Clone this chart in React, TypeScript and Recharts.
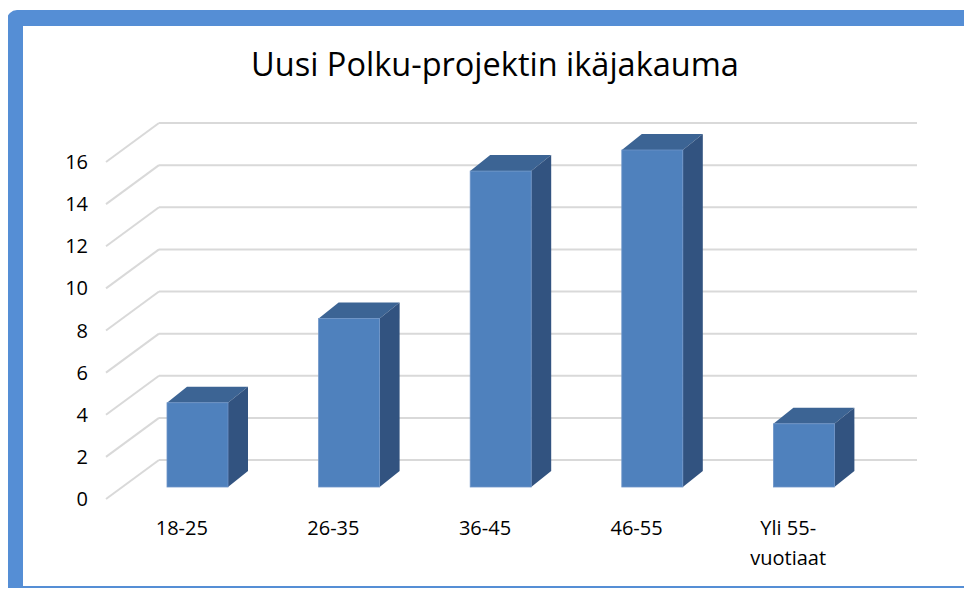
import React from "react";
import { BarChart, Bar, XAxis, YAxis, CartesianGrid } from "recharts";

const categories = ["18-25", "26-35", "36-45", "46-55", "Yli 55-vuotiaat"];
const counts = [4, 8, 15, 16, 3];
const yTicks = [0, 2, 4, 6, 8, 10, 12, 14, 16];

const data = categories.map((name, i) => ({ name, value: counts[i] }));

const FONT = "'Open Sans', sans-serif";
// 3d offsets
const DEPTH_X = 20;
const DEPTH_Y = 16;
const BACK_X = 37;
const BACK_Y = 27;
const FRONT_X = 16;
const FRONT_Y = 12;

const Bar3D = (props: any) => {
  const { x, y, width, height } = props;
  if (!height) return null;
  return (
    <g>
      <polygon
        points={`${x},${y} ${x + DEPTH_X},${y - DEPTH_Y} ${x + width + DEPTH_X},${y - DEPTH_Y} ${x + width},${y}`}
        fill="#3C6494"
      />
      <polygon
        points={`${x + width},${y} ${x + width + DEPTH_X},${y - DEPTH_Y} ${x + width + DEPTH_X},${y + height - DEPTH_Y} ${x + width},${y + height}`}
        fill="#325380"
      />
      <rect x={x} y={y} width={width} height={height} fill="#4F81BD" stroke="#6E95C8" strokeWidth={0.8} />
    </g>
  );
};

const GridLine = (props: any) => {
  const { x1, x2, y1, index } = props;
  return (
    <g key={`grid-${index}`}>
      <line x1={x1 - FRONT_X} y1={y1 + FRONT_Y} x2={x1 + BACK_X} y2={y1 - BACK_Y} stroke="#D9D9D9" strokeWidth={2} />
      <line x1={x1 + BACK_X} y1={y1 - BACK_Y} x2={x2 + BACK_X} y2={y1 - BACK_Y} stroke="#D9D9D9" strokeWidth={2} />
    </g>
  );
};

const YTick = (props: any) => {
  const { x, y, payload } = props;
  return (
    <text x={x - 26} y={y + FRONT_Y} dy={7} textAnchor="end" fontFamily={FONT} fontSize={20} fill="#000">
      {payload.value}
    </text>
  );
};

const XTick = (props: any) => {
  const { x, y, payload } = props;
  const label: string = payload.value;
  const lines = label.includes(" ") ? label.replace(/-(?=\D)/, "-\n").split("\n") : [label];
  return (
    <text x={x - FRONT_X} y={y + 40} textAnchor="middle" fontFamily={FONT} fontSize={20} fill="#000">
      {lines.map((l, i) => (
        <tspan key={i} x={x - FRONT_X} dy={i === 0 ? 0 : 30}>
          {l}
        </tspan>
      ))}
    </text>
  );
};

export default function App() {
  return (
    <div style={{ position: "relative", width: 972, height: 596, margin: -8, overflow: "hidden", background: "#fff" }}>
      <div
        style={{
          position: "absolute",
          left: 7,
          top: 10,
          width: 976,
          height: 592,
          boxSizing: "border-box",
          border: "16px solid #558ED5",
          borderTopLeftRadius: 10,
        }}
      />
      <div
        style={{
          position: "absolute",
          left: 0,
          top: 47,
          width: 990,
          textAlign: "center",
          fontFamily: FONT,
          fontSize: 32.5,
          color: "#000",
          lineHeight: "34px",
        }}
      >
        Uusi Polku-projektin ikäjakauma
      </div>
      <div style={{ position: "absolute", left: 0, top: 0 }}>
        <BarChart
          width={972}
          height={596}
          data={data}
          margin={{ top: 150, right: 92, bottom: 49, left: 0 }}
          barSize={61}
        >
          <CartesianGrid vertical={false} horizontal={GridLine} />
          <XAxis dataKey="name" axisLine={false} tickLine={false} height={60} tick={XTick} interval={0} />
          <YAxis
            domain={[0, 16]}
            ticks={yTicks}
            width={122}
            axisLine={false}
            tickLine={false}
            tick={YTick}
            interval={0}
          />
          <Bar dataKey="value" shape={Bar3D} isAnimationActive={false} />
        </BarChart>
      </div>
    </div>
  );
}
